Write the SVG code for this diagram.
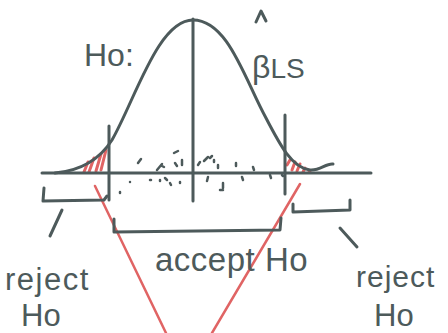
<svg xmlns="http://www.w3.org/2000/svg" width="448" height="333" viewBox="0 0 448 333">
<style>
.ink{fill:none;stroke:#4d5a5b;stroke-width:3;stroke-linecap:round;stroke-linejoin:round}
.red{fill:none;stroke:#e06464;stroke-width:2.5;stroke-linecap:round}
.hatch{fill:none;stroke:#e06464;stroke-width:3;stroke-linecap:round}
.dot{fill:none;stroke:#4d5a5b;stroke-width:2.5;stroke-linecap:round}
.lbl{font-family:"Liberation Sans",sans-serif;fill:#4d5a5b}
</style>
<rect width="448" height="333" fill="#fff"/>
<g id="red-lines">
<line class="red" x1="95" y1="186" x2="166" y2="333"/>
<line class="red" x1="300" y1="184" x2="212" y2="333"/>
</g>
<g id="hatching">
<path class="hatch" d="M84 172 L88 162 M89 172 L94 158 M96 171 L101 154 M101 170 L106 150"/>
<path class="hatch" d="M287 165 L290 160 M292 170 L295 162 M297 171 L300 164 M303 172 L305 168 M309 172 L310 171"/>
</g>
<g id="axis">
<line class="ink" x1="42" y1="173" x2="371" y2="173"/>
<line class="ink" x1="193" y1="19" x2="193" y2="201"/>
<line class="ink" x1="109" y1="126" x2="109" y2="200"/>
<line class="ink" x1="285" y1="115" x2="285" y2="194"/>
</g>
<g id="curve">
<path class="ink" d="M55 173 C78 171 98 162 112 140 C135 100 158 20 193 20 C228 20 245 80 266 118 C280 145 292 168 310 170 C320 171 326 163 333 164"/>
</g>
<g id="dots">
<path class="dot" d="M138 163 L141 159 M130 182 L130 182 M150 180 L151 180 M157 170 L162 164 M165 178 L167 180 M170 183 L171 185 M175 163 L177 166 M174 153 L178 151 M182 160 L182 165 M180 182 L180 183 M198 165 L200 162 M204 161 L208 157 M210 158 L212 156 M214 160 L214 162 M218 165 L218 168 M208 177 L207 181 M223 183 L223 188 M220 190 L223 190 M236 163 L236 166 M242 177 L243 180 M253 167 L254 170 M270 175 L271 178 M282 175 L283 176 M160 180 L160 181 M120 192 L120 193 M162 166 L164 167"/>
</g>
<g id="brackets">
<path class="ink" d="M44 188 L43 201 L104 200 L107 196"/>
<path class="ink" d="M114 219 L114 232 L280 230 L281 218"/>
<path class="ink" d="M293 204 L293 212 L350 210 L350 200"/>
<line class="ink" x1="62" y1="210" x2="50" y2="236"/>
<line class="ink" x1="340" y1="228" x2="357" y2="247"/>
</g>
<g id="labels">
<text class="lbl" x="84" y="66" font-size="32">Ho:</text>
<text class="lbl" x="252" y="78" font-size="32">β<tspan font-size="28">LS</tspan></text>
<path class="ink" d="M256 22 L261 11 L266 21"/>
<text class="lbl" x="155" y="271" font-size="33" letter-spacing="0.5">accept Ho</text>
<text class="lbl" x="5" y="290" font-size="31" letter-spacing="1.5">reject</text>
<text class="lbl" x="21" y="326" font-size="31">Ho</text>
<text class="lbl" x="356" y="287" font-size="30" letter-spacing="1">reject</text>
<text class="lbl" x="374" y="326" font-size="31">Ho</text>
</g>
</svg>
